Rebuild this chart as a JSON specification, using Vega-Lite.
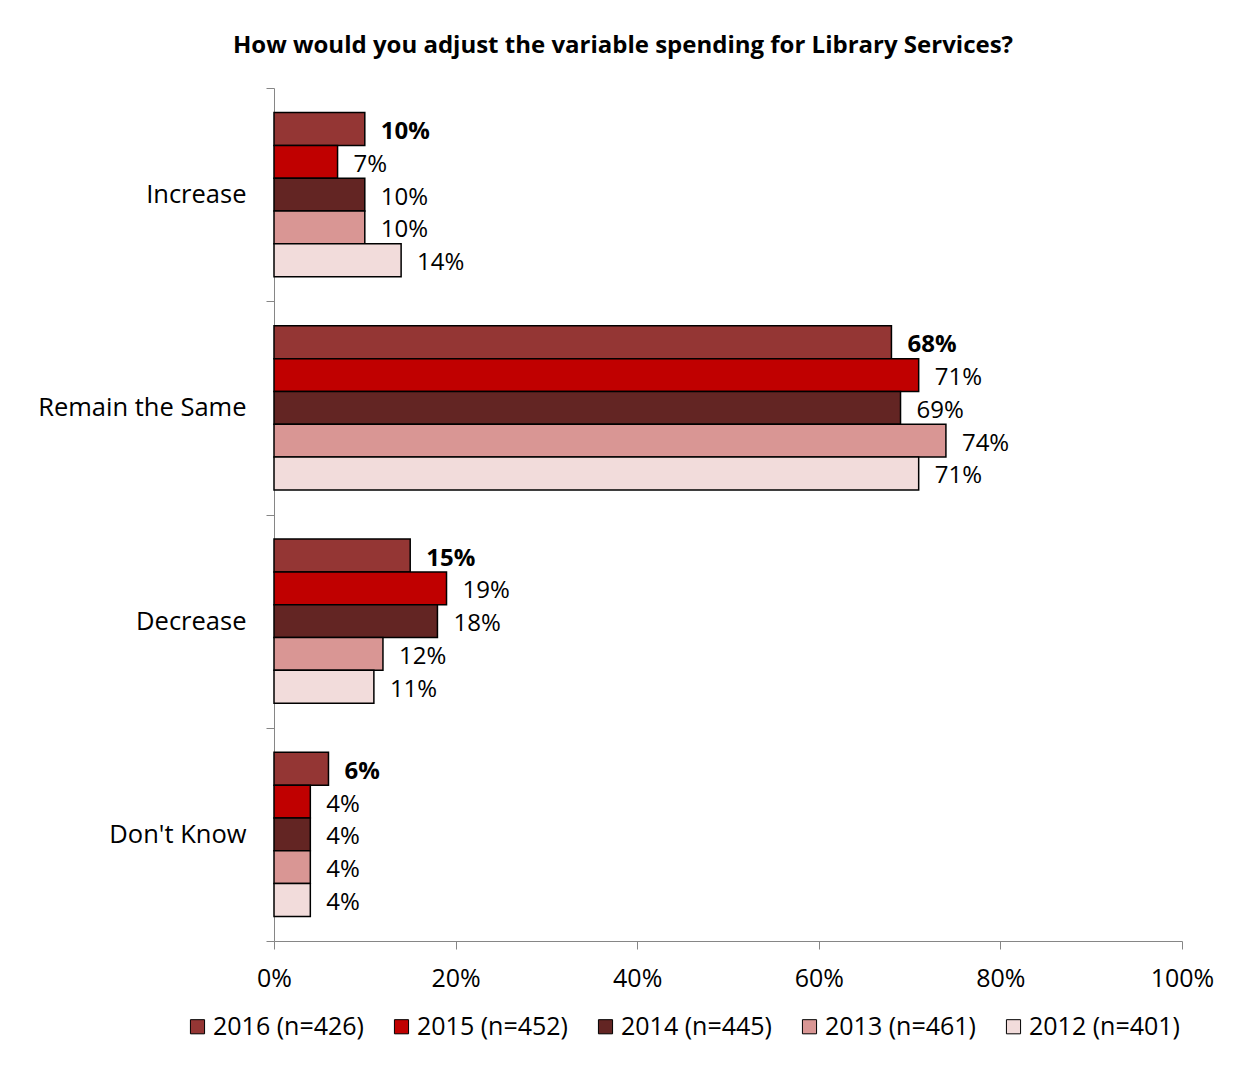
{
  "$schema": "https://vega.github.io/schema/vega-lite/v6.json",
  "width": 908,
  "height": 853,
  "autosize": {"type": "none"},
  "padding": {"left": 274, "top": 88, "right": 56, "bottom": 127},
  "background": "white",
  "title": {
    "text": "How would you adjust the variable spending for Library Services?",
    "font": "Open Sans",
    "fontSize": 24,
    "fontWeight": "bold",
    "color": "black",
    "anchor": "middle",
    "frame": "group",
    "dx": -105,
    "offset": 18
  },
  "data": {
    "values": [
      {"category": "Increase", "year": "2016 (n=426)", "value": 0.10},
      {"category": "Increase", "year": "2015 (n=452)", "value": 0.07},
      {"category": "Increase", "year": "2014 (n=445)", "value": 0.10},
      {"category": "Increase", "year": "2013 (n=461)", "value": 0.10},
      {"category": "Increase", "year": "2012 (n=401)", "value": 0.14},
      {"category": "Remain the Same", "year": "2016 (n=426)", "value": 0.68},
      {"category": "Remain the Same", "year": "2015 (n=452)", "value": 0.71},
      {"category": "Remain the Same", "year": "2014 (n=445)", "value": 0.69},
      {"category": "Remain the Same", "year": "2013 (n=461)", "value": 0.74},
      {"category": "Remain the Same", "year": "2012 (n=401)", "value": 0.71},
      {"category": "Decrease", "year": "2016 (n=426)", "value": 0.15},
      {"category": "Decrease", "year": "2015 (n=452)", "value": 0.19},
      {"category": "Decrease", "year": "2014 (n=445)", "value": 0.18},
      {"category": "Decrease", "year": "2013 (n=461)", "value": 0.12},
      {"category": "Decrease", "year": "2012 (n=401)", "value": 0.11},
      {"category": "Don't Know", "year": "2016 (n=426)", "value": 0.06},
      {"category": "Don't Know", "year": "2015 (n=452)", "value": 0.04},
      {"category": "Don't Know", "year": "2014 (n=445)", "value": 0.04},
      {"category": "Don't Know", "year": "2013 (n=461)", "value": 0.04},
      {"category": "Don't Know", "year": "2012 (n=401)", "value": 0.04}
    ]
  },
  "encoding": {
    "y": {
      "field": "category",
      "type": "nominal",
      "sort": ["Increase", "Remain the Same", "Decrease", "Don't Know"],
      "scale": {"paddingInner": 0, "paddingOuter": 0},
      "axis": {
        "title": null,
        "tickBand": "extent",
        "tickSize": 8,
        "tickColor": "#868686",
        "domainColor": "#868686",
        "labelFont": "Open Sans",
        "labelFontSize": 25.5,
        "labelColor": "black",
        "labelPadding": 20,
        "labelLimit": 400
      }
    },
    "yOffset": {
      "field": "year",
      "type": "nominal",
      "sort": ["2016 (n=426)", "2015 (n=452)", "2014 (n=445)", "2013 (n=461)", "2012 (n=401)"],
      "scale": {"paddingInner": 0, "paddingOuter": 0.75}
    },
    "x": {
      "field": "value",
      "type": "quantitative",
      "scale": {"domain": [0, 1]},
      "axis": {
        "title": null,
        "format": ".0%",
        "values": [0, 0.2, 0.4, 0.6, 0.8, 1.0],
        "grid": false,
        "labelFlush": false,
        "tickSize": 8,
        "tickColor": "#868686",
        "domainColor": "#868686",
        "labelFont": "Open Sans",
        "labelFontSize": 25,
        "labelColor": "black",
        "labelPadding": 17
      }
    }
  },
  "layer": [
    {
      "mark": {"type": "bar", "stroke": "black", "strokeWidth": 1.5},
      "encoding": {
        "color": {
          "field": "year",
          "type": "nominal",
          "sort": ["2016 (n=426)", "2015 (n=452)", "2014 (n=445)", "2013 (n=461)", "2012 (n=401)"],
          "scale": {
            "domain": ["2016 (n=426)", "2015 (n=452)", "2014 (n=445)", "2013 (n=461)", "2012 (n=401)"],
            "range": ["#943634", "#C00000", "#632523", "#D99694", "#F2DCDB"]
          },
          "legend": {
            "title": null,
            "orient": "none",
            "direction": "horizontal",
            "legendX": -89,
            "legendY": 926,
            "symbolType": "square",
            "symbolSize": 200,
            "symbolStrokeColor": "black",
            "symbolStrokeWidth": 1,
            "symbolOpacity": 1,
            "labelFont": "Open Sans",
            "labelFontSize": 25,
            "labelColor": "black",
            "labelOffset": 3,
            "columnPadding": 25,
            "labelLimit": 300
          }
        }
      }
    },
    {
      "transform": [{"filter": "datum.year === '2016 (n=426)'"}],
      "mark": {"type": "text", "align": "left", "baseline": "middle", "dx": 16, "dy": 3, "font": "Open Sans", "fontSize": 24, "fontWeight": "bold", "color": "black"},
      "encoding": {"text": {"field": "value", "type": "quantitative", "format": ".0%"}}
    },
    {
      "transform": [{"filter": "datum.year !== '2016 (n=426)'"}],
      "mark": {"type": "text", "align": "left", "baseline": "middle", "dx": 16, "dy": 3, "font": "Open Sans", "fontSize": 24, "color": "black"},
      "encoding": {"text": {"field": "value", "type": "quantitative", "format": ".0%"}}
    }
  ],
  "config": {"view": {"stroke": null}}
}
